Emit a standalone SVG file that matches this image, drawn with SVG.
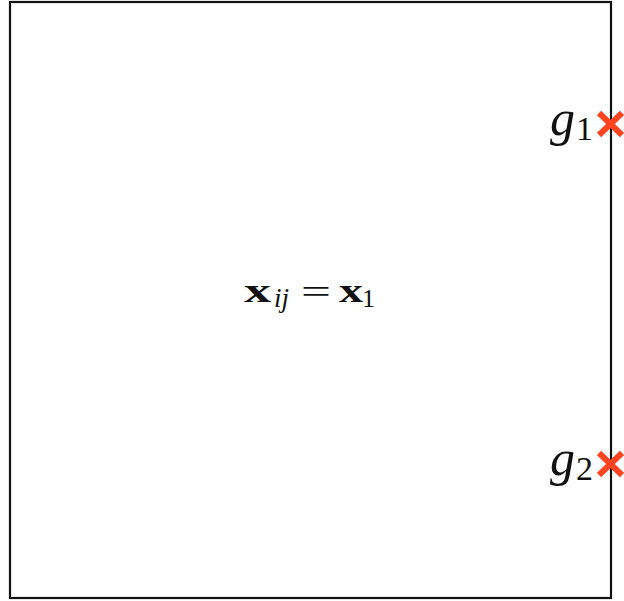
<svg xmlns="http://www.w3.org/2000/svg" width="624" height="601" viewBox="0 0 624 601">
<style>
.frame{fill:#fff;stroke:#111;stroke-width:2.2}
.serif{font-family:"Liberation Serif","DejaVu Serif",serif;fill:#111;font-weight:normal}
.lbl{font-style:italic;font-size:50px}
.sub{font-size:34px}
.bx{font-weight:bold;font-size:33px}
.it{font-style:italic;font-size:27px}
.cross{stroke:#ff4422;stroke-width:6;stroke-linecap:butt;fill:none}
</style>
<rect width="624" height="601" fill="#fff"/>
<g id="domain">
<rect class="frame" x="10" y="2" width="601" height="596"/>
</g>
<g id="equation">
<text class="serif bx" x="244" y="302" textLength="27" lengthAdjust="spacingAndGlyphs">x</text>
<text class="serif it" x="274" y="307">ij</text>
<text class="serif" x="301" y="303" font-size="34" textLength="30" lengthAdjust="spacingAndGlyphs">=</text>
<text class="serif bx" x="339" y="302" textLength="24" lengthAdjust="spacingAndGlyphs">x</text>
<text class="serif" x="362" y="307" font-size="26">1</text>
</g>
<g id="g1">
<text class="serif lbl" x="550" y="135">g</text>
<text class="serif sub" x="576" y="140">1</text>
<path class="cross" d="M599,113 L622,135 M622,113 L599,135"/>
</g>
<g id="g2">
<text class="serif lbl" x="550" y="475">g</text>
<text class="serif sub" x="576" y="480">2</text>
<path class="cross" d="M599,453 L622,475 M622,453 L599,475"/>
</g>
</svg>
